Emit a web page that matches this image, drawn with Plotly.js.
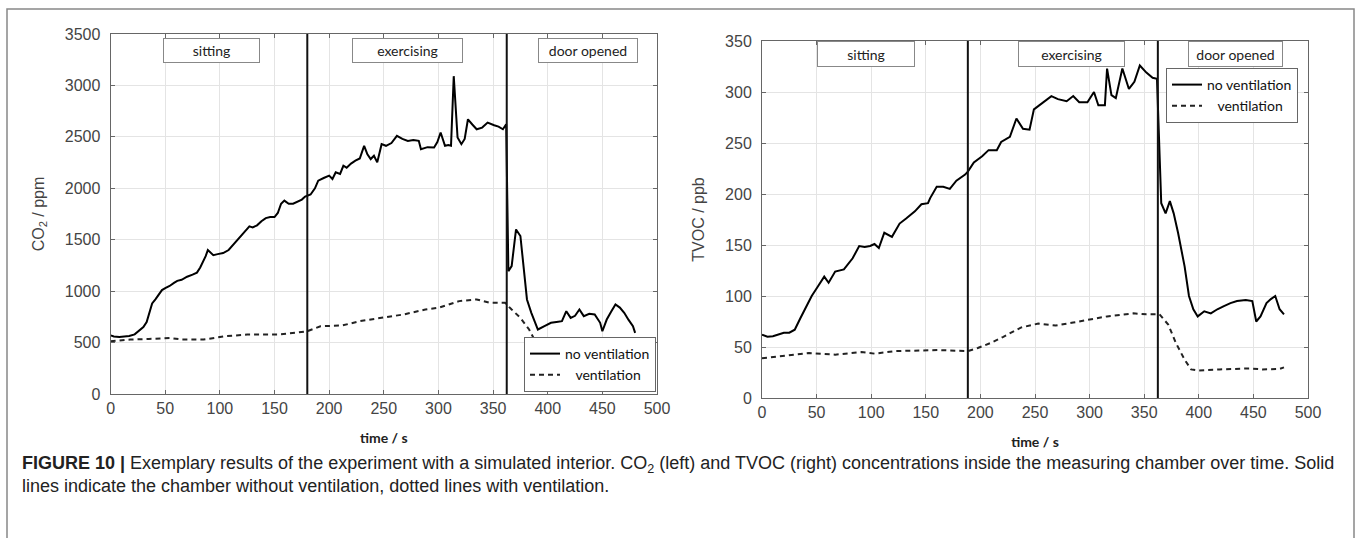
<!DOCTYPE html>
<html>
<head>
<meta charset="utf-8">
<script src="https://cdn.plot.ly/plotly-3.0.1.min.js"></script>
<style>html,body{margin:0;padding:0;background:#fff;}#chart{width:1357px;height:538px;}</style>
</head>
<body>
<div id="chart"></div>
<script>
// ---- Data ----
// CO2, no ventilation
const co2NoVentT = [0,3,8,12,17,22,26,30,33,36,38,41,44,47,50,54,58,61,65,70,75,79,82,85,87,89,91,94,98,103,108,112,116,120,124,127,130,134,138,142,146,150,153,156,159,163,167,171,175,178,180,
  183,187,190,195,200,203,206,210,213,216,220,224,228,232,235,238,241,244,248,252,257,262,267,272,277,282,284,290,296,299,302,306,309,311.5,314,317.5,321,324,327,331,335,340,345,351,355,359,362,363,
  364,367,371,375,377,381,385,391,397,403,408,413,417,421,425,429,433,438,443,448,450,454,458,462,466,470,474,478,480];
const co2NoVent = [570,560,555,560,565,580,620,650,700,820,880,920,970,1010,1030,1050,1080,1100,1110,1140,1160,1180,1230,1290,1340,1400,1380,1350,1360,1370,1400,1450,1500,1550,1600,1630,1620,1640,1680,1710,1720,1720,1760,1850,1880,1850,1850,1870,1890,1920,1930,
  1940,2000,2074,2100,2123,2090,2155,2140,2219,2200,2240,2268,2290,2413,2330,2284,2316,2252,2429,2413,2440,2510,2480,2461,2470,2461,2380,2400,2397,2450,2542,2413,2420,2413,3090,2494,2429,2480,2671,2620,2574,2590,2639,2613,2600,2574,2622,1900,
  1195,1244,1600,1536,1309,919,789,627,659,692,700,708,805,740,760,821,757,780,773,692,610,724,800,870,840,789,720,659,594];
// CO2, ventilation
const co2VentT = [0,18,35,54,65.5,85,105,125,153,177,180,192,212,228,248,268,288,300,319,335,347,361,367,375,383,391,399,415,435,462,470];
const co2Vent  = [513,529,535,545,529,529,562,578,578,600,610,659,666,708,740,773,821,838,903,919,886,886,821,740,627,464,432,432,448,460,470];
// TVOC, no ventilation
const tvocNoVentT = [0,5,10,15,20,25,30,35,39.5,45.5,51,57,61,67,75,83,89,94,99,103,107,112,119,126,132,140,146,152,154,160,166,172,178,186,188.5,
  194,201.6,207.5,215,219,227,233,239,245,249,255,261,265,271,279,285,290.5,298,304,308,314,316,320,324,330,336,341,346,352,357.7,361.7,
  365.6,369.6,373.5,377,381,387,391,395,399,405,411,417,423,429,435,443,449,452.6,456.5,462,466,470,474,478];
const tvocNoVent = [62,60,60.5,62,64,64,67,78,88,100,109,119,113,124,126,137,149,148,149,151,147,162,158,171,176,183,190,191,196,207,207,205,213,219,222,
  231,237,243,243,251,256,274,264,263,283,288,293,296,293,291,296,290,290,300,287,287,323,297,294,323,303,310,326,319,314,313,
  191,181,193,181,162,129,100,87,80,85,83,87,90,93,95,96,95,75,80,93,97,100,87,82];
// TVOC, ventilation
const tvocVentT = [0,20,43,67,91,103,122.5,162,188.5,197.6,209.5,221,237,253,269,285,300,316,340,352,364,372,379,387,393,399,419,439,447,458,474,478];
const tvocVent  = [39,41,44,42.5,45,43.5,46,47,46,49,54,60,69,73,71,74,77,80,83,82,82,72,54,37.6,28,27,28,29,29,28,28.5,30];

// Phase boundaries (s) and phase labels
const phaseBoundsCO2  = [180, 362.5];
const phaseBoundsTVOC = [188.5, 362.5];
const phaseLabels = ['sitting', 'exercising', 'door opened'];
const phaseLabelTimesCO2  = [92, 271.7, 437];
const phaseLabelTimesTVOC = [95.2, 283.4, 433.6];
const seriesNames = ['no ventilation', '\u00a0\u00a0\u00a0ventilation'];
const xTicks = [0,50,100,150,200,250,300,350,400,450,500];

// ---- Styling ----
const W = 1357, H = 538;
const tickFont = {family: 'Liberation Sans, Arial, sans-serif', size: 16, color: '#444'};
const boxFont = {family: 'Lato, Open Sans, sans-serif', size: 14, color: '#222'};
const legFont = {family: 'Lato, Open Sans, sans-serif', size: 14, color: '#111'};

function px2x(p){return p / W;}
function px2y(p){return 1 - p / H;}

const solid = {color: '#000', width: 2};
const dashed = {color: '#222', width: 2, dash: '5px,4px'};

const traces = [
  {x: co2NoVentT, y: co2NoVent, xaxis: 'x', yaxis: 'y', mode: 'lines', line: solid, name: seriesNames[0], legend: 'legend'},
  {x: co2VentT, y: co2Vent, xaxis: 'x', yaxis: 'y', mode: 'lines', line: dashed, name: seriesNames[1], legend: 'legend'},
  {x: tvocNoVentT, y: tvocNoVent, xaxis: 'x2', yaxis: 'y2', mode: 'lines', line: solid, name: seriesNames[0], legend: 'legend2'},
  {x: tvocVentT, y: tvocVent, xaxis: 'x2', yaxis: 'y2', mode: 'lines', line: dashed, name: seriesNames[1], legend: 'legend2'}
];

function axisBase(extra){
  return Object.assign({
    showline: true, linecolor: '#666', linewidth: 1, mirror: 'ticks',
    ticks: 'inside', ticklen: 4, tickcolor: '#666',
    showgrid: true, gridcolor: '#e4e4e4', gridwidth: 1,
    zeroline: false, tickfont: tickFont, fixedrange: true
  }, extra);
}

const xTitleFont = {family: 'Lato, Open Sans, sans-serif', size: 14, color: '#222', weight: 'bold'};

const layout = {
  width: W, height: H,
  margin: {l: 0, r: 0, t: 0, b: 0},
  paper_bgcolor: '#fff', plot_bgcolor: '#fff',
  showlegend: true,
  xaxis: axisBase({domain: [px2x(110.6), px2x(657)], range: [0, 500], tickvals: xTicks, anchor: 'y',
    title: {text: '<b>time / s</b>', font: xTitleFont, standoff: 16}}),
  yaxis: axisBase({domain: [px2y(394), px2y(34)], range: [0, 3500], dtick: 500, anchor: 'x', ticklabelstandoff: 6,
    title: {text: 'CO<sub>2</sub> / ppm', font: tickFont, standoff: 16}}),
  xaxis2: axisBase({domain: [px2x(762), px2x(1308)], range: [0, 500], tickvals: xTicks, anchor: 'y2',
    title: {text: '<b>time / s</b>', font: xTitleFont, standoff: 16}}),
  yaxis2: axisBase({domain: [px2y(398), px2y(41)], range: [0, 350], dtick: 50, anchor: 'x2', ticklabelstandoff: 6,
    title: {text: 'TVOC / ppb', font: tickFont, standoff: 16}}),
  legend: {x: px2x(656), xanchor: 'right', y: px2y(392), yanchor: 'bottom', bgcolor: '#fff',
    bordercolor: '#666', borderwidth: 1, font: legFont, tracegroupgap: 0, itemwidth: 30},
  legend2: {x: px2x(1298), xanchor: 'right', y: px2y(68), yanchor: 'top', bgcolor: '#fff',
    bordercolor: '#666', borderwidth: 1, font: legFont, tracegroupgap: 0, itemwidth: 30},
  shapes: [],
  annotations: []
};

// Phase boundary lines
phaseBoundsCO2.forEach(t => layout.shapes.push({type: 'line', xref: 'x', yref: 'y domain', x0: t, x1: t, y0: 0, y1: 1, line: {color: '#111', width: 2}}));
phaseBoundsTVOC.forEach(t => layout.shapes.push({type: 'line', xref: 'x2', yref: 'y2 domain', x0: t, x1: t, y0: 0, y1: 1, line: {color: '#111', width: 2}}));

// Outer frame
layout.shapes.push({type: 'rect', xref: 'paper', yref: 'paper', x0: px2x(7), x1: px2x(1354), y0: -0.1, y1: px2y(9), line: {color: '#888', width: 1.5}, fillcolor: 'rgba(0,0,0,0)', layer: 'below'});

// Phase label boxes
const boxWidthsCO2 = [95, 109, 98], boxWidthsTVOC = [96, 105, 93];
phaseLabels.forEach((lab, i) => {
  layout.annotations.push({xref: 'x', yref: 'y domain', x: phaseLabelTimesCO2[i], y: 1, yanchor: 'top', yshift: -4,
    text: lab, showarrow: false, font: boxFont, bgcolor: '#fff', bordercolor: '#888', borderwidth: 1, borderpad: 0,
    width: boxWidthsCO2[i], height: 23});
  layout.annotations.push({xref: 'x2', yref: 'y2 domain', x: phaseLabelTimesTVOC[i], y: 1, yanchor: 'top', yshift: 0,
    text: lab, showarrow: false, font: boxFont, bgcolor: '#fff', bordercolor: '#888', borderwidth: 1, borderpad: 0,
    width: boxWidthsTVOC[i], height: 24});
});

// Caption
layout.annotations.push({xref: 'paper', yref: 'paper', x: px2x(20), y: px2y(451), xanchor: 'left', yanchor: 'top', align: 'left',
  showarrow: false, font: {family: 'Liberation Sans, Arial, sans-serif', size: 18, color: '#222'},
  text: '<b>FIGURE 10 |</b> Exemplary results of the experiment with a simulated interior. CO<sub>2</sub> (left) and TVOC (right) concentrations inside the measuring chamber over time. Solid<br>lines indicate the chamber without ventilation, dotted lines with ventilation.'});

Plotly.newPlot('chart', traces, layout, {displayModeBar: false, staticPlot: true});
</script>
</body>
</html>
